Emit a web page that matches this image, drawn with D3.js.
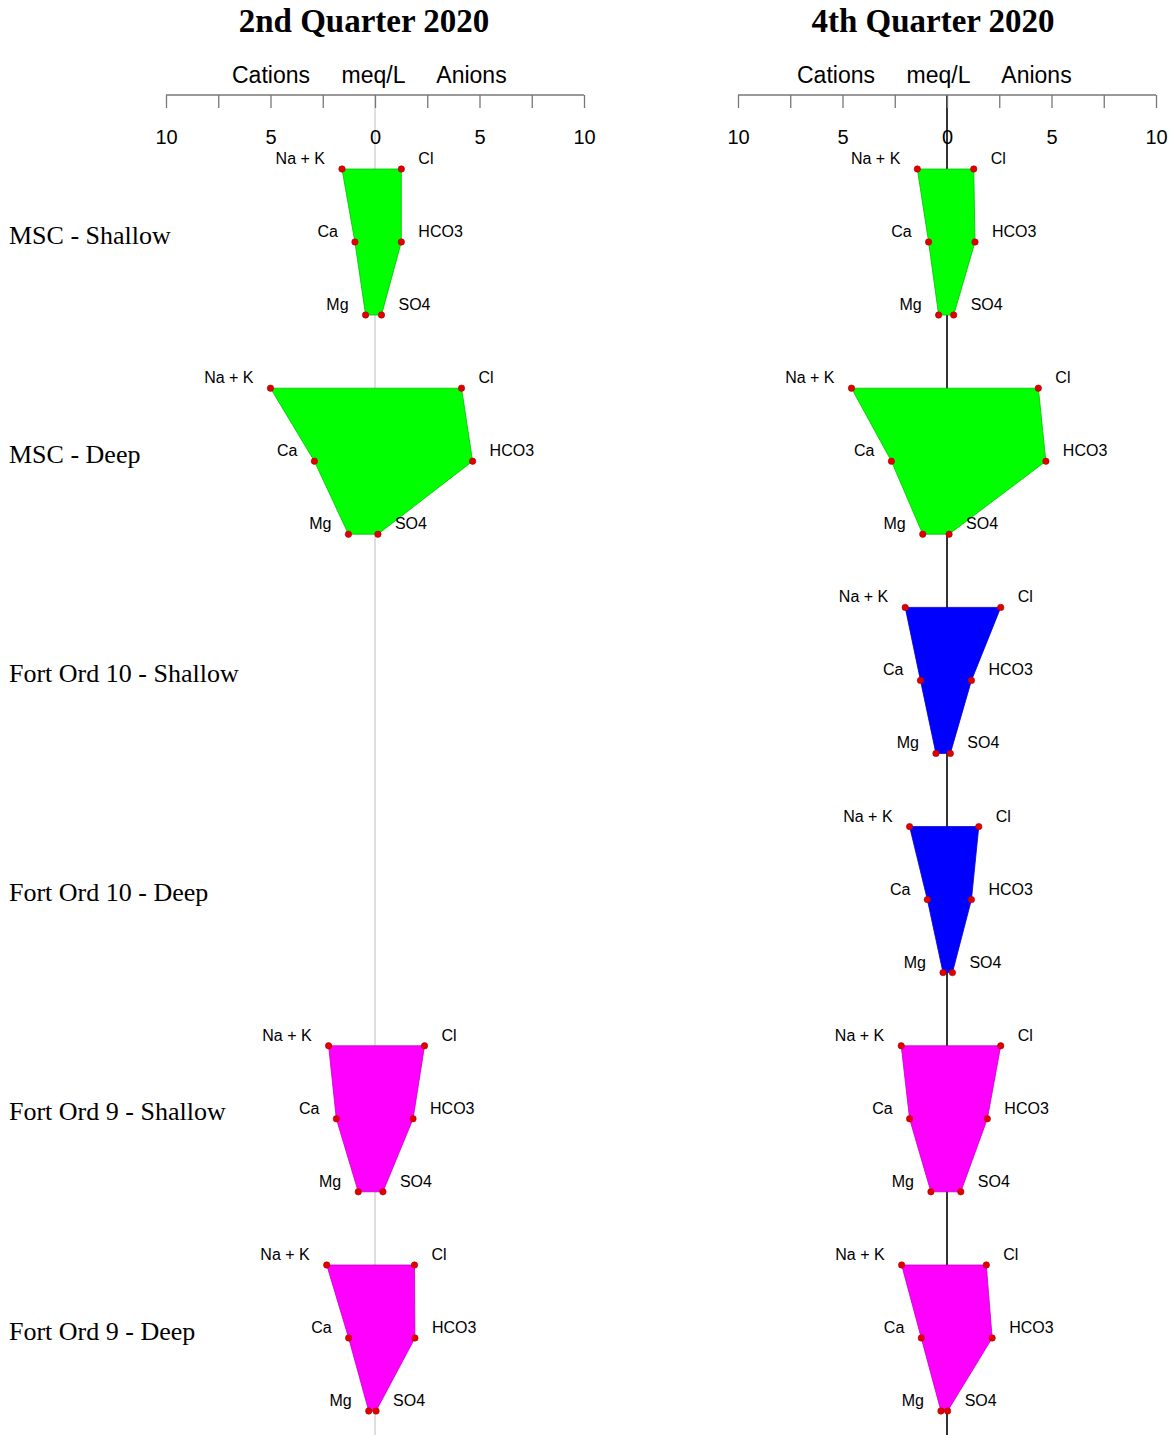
<!DOCTYPE html>
<html>
<head>
<meta charset="utf-8">
<script src="https://cdn.jsdelivr.net/npm/d3@7"></script>
<style>
  body { margin: 0; background: #fff; }
  svg { display: block; }
</style>
</head>
<body>
<script>
// Sampling sites, top to bottom
const sites = ["MSC - Shallow", "MSC - Deep", "Fort Ord 10 - Shallow",
               "Fort Ord 10 - Deep", "Fort Ord 9 - Shallow", "Fort Ord 9 - Deep"];
const siteColors = ["#00ff00", "#00ff00", "#0000ff", "#0000ff", "#ff00ff", "#ff00ff"];

const cationNames = ["Na + K", "Ca", "Mg"];
const anionNames = ["Cl", "HCO3", "SO4"];

// 2nd quarter 2020 (meq/L); Fort Ord 10 not sampled
const q2NaK  = [1.58, 5.00, null, null, 2.22, 2.31];
const q2Ca   = [0.96, 2.90, null, null, 1.85, 1.26];
const q2Mg   = [0.45, 1.27, null, null, 0.80, 0.30];
const q2Cl   = [1.26, 4.14, null, null, 2.37, 1.89];
const q2HCO3 = [1.26, 4.67, null, null, 1.82, 1.91];
const q2SO4  = [0.31, 0.14, null, null, 0.38, 0.05];

// 4th quarter 2020 (meq/L)
const q4NaK  = [1.42, 4.57, 2.00, 1.79, 2.19, 2.17];
const q4Ca   = [0.88, 2.66, 1.27, 0.94, 1.79, 1.23];
const q4Mg   = [0.40, 1.16, 0.53, 0.19, 0.77, 0.29];
const q4Cl   = [1.28, 4.37, 2.57, 1.52, 2.57, 1.88];
const q4HCO3 = [1.34, 4.73, 1.17, 1.17, 1.93, 2.16];
const q4SO4  = [0.32, 0.10, 0.16, 0.26, 0.66, 0.03];

const tickValues = [-10, -7.5, -5, -2.5, 0, 2.5, 5, 7.5, 10];
const labeledTicks = [-10, -5, 0, 5, 10];

const panels = [
  { title: "2nd Quarter 2020", left: 166, right: 584, centerColor: "#c8c8c8",
    titleDx: -11, headerDx: [-104, -1.5, 96.5],
    cations: [q2NaK, q2Ca, q2Mg], anions: [q2Cl, q2HCO3, q2SO4] },
  { title: "4th Quarter 2020", left: 738, right: 1156, centerColor: "#000000",
    titleDx: -14, headerDx: [-111, -8.5, 89.5],
    cations: [q4NaK, q4Ca, q4Mg], anions: [q4Cl, q4HCO3, q4SO4] }
];

const W = 1175, H = 1435;
const svg = d3.select("body").append("svg").attr("width", W).attr("height", H);

const sans = "'Liberation Sans', Arial, sans-serif";
const serif = "'Liberation Serif', 'Times New Roman', serif";

// Row positions: y of the top (Na + K / Cl) vertex of each diagram
const yRow = d3.scalePoint().domain(sites).range([169, 1265]);
// Vertical offset of each ion level inside a diagram
const yIon = d3.scaleLinear().domain([0, 2]).range([0, 146]);

// Site names down the left side
svg.append("g").selectAll("text").data(sites).join("text")
  .attr("x", 9)
  .attr("y", d => yRow(d) + yIon(1) - 7)
  .attr("dominant-baseline", "central")
  .attr("font-family", serif)
  .attr("font-size", 26)
  .attr("fill", "#000")
  .text(d => d);

panels.forEach(p => {
  const x = d3.scaleLinear().domain([-10, 10]).range([p.left, p.right]);
  const cx = x(0);
  const g = svg.append("g");

  // Center line
  g.append("line")
    .attr("x1", cx).attr("x2", cx)
    .attr("y1", 95).attr("y2", H)
    .attr("stroke", p.centerColor).attr("stroke-width", p.centerColor === "#000000" ? 1.6 : 1.2);

  // Title
  g.append("text")
    .attr("x", (p.left + p.right) / 2 + p.titleDx).attr("y", 21)
    .attr("text-anchor", "middle").attr("dominant-baseline", "central")
    .attr("font-family", serif).attr("font-weight", "bold").attr("font-size", 33)
    .text(p.title);

  // Axis header
  ["Cations", "meq/L", "Anions"].forEach((t, k) => {
    g.append("text")
      .attr("x", cx + p.headerDx[k]).attr("y", 75)
      .attr("text-anchor", "middle").attr("dominant-baseline", "central")
      .attr("font-family", sans).attr("font-size", 23)
      .text(t);
  });

  // Axis
  const axis = d3.axisBottom(x)
    .tickValues(tickValues)
    .tickSize(13)
    .tickPadding(24)
    .tickFormat(v => labeledTicks.includes(v) ? String(Math.abs(v)) : "");
  const ax = g.append("g").attr("transform", "translate(0,95)").call(axis);
  ax.select(".domain").attr("d", `M${p.left},0H${p.right}`).attr("stroke", "#777").attr("stroke-width", 1.3);
  ax.selectAll(".tick line").attr("stroke", "#777").attr("stroke-width", 1.3);
  ax.selectAll(".tick text")
    .attr("font-family", sans).attr("font-size", 20).attr("fill", "#000")
    .attr("dy", null).attr("dominant-baseline", "central").attr("y", 42);

  // Stiff diagrams
  sites.forEach((site, i) => {
    const cat = p.cations.map(a => a[i]);
    const an = p.anions.map(a => a[i]);
    if (cat.some(v => v == null) || an.some(v => v == null)) return;
    const y0 = yRow(site);
    const catPts = cat.map((v, k) => [x(-v), y0 + yIon(k)]);
    const anPts = an.map((v, k) => [x(v), y0 + yIon(k)]);
    const poly = catPts.concat(anPts.slice().reverse());
    const fill = siteColors[i];

    g.append("path")
      .attr("d", d3.line()(poly) + "Z")
      .attr("fill", fill)
      .attr("stroke", d3.color(fill).darker(0.8))
      .attr("stroke-width", 0.8)
      .attr("stroke-linejoin", "round");

    g.selectAll(null).data(catPts.concat(anPts)).join("circle")
      .attr("cx", d => d[0]).attr("cy", d => d[1])
      .attr("r", 3.2)
      .attr("fill", "#e00000")
      .attr("stroke", "#b00000").attr("stroke-width", 0.6);

    catPts.forEach((pt, k) => {
      g.append("text")
        .attr("x", pt[0] - 17).attr("y", pt[1] - 10.5)
        .attr("text-anchor", "end").attr("dominant-baseline", "central")
        .attr("font-family", sans).attr("font-size", 16)
        .text(cationNames[k]);
    });
    anPts.forEach((pt, k) => {
      g.append("text")
        .attr("x", pt[0] + 17).attr("y", pt[1] - 10.5)
        .attr("text-anchor", "start").attr("dominant-baseline", "central")
        .attr("font-family", sans).attr("font-size", 16)
        .text(anionNames[k]);
    });
  });
});
</script>
</body>
</html>
